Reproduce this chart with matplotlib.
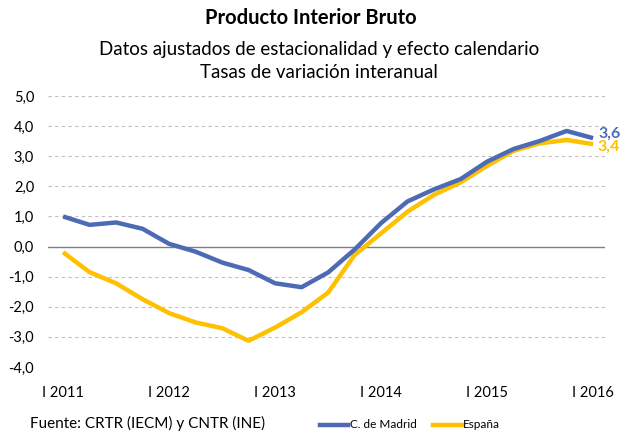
import numpy as np
import matplotlib
matplotlib.use("Agg")
import matplotlib.pyplot as plt

plt.rcParams['font.family'] = ['Lato', 'DejaVu Sans']

# datos trimestrales I 2011 - I 2016
madrid = [1.0, 0.72, 0.8, 0.59, 0.09, -0.17, -0.53, -0.78, -1.22, -1.35,
          -0.86, -0.1, 0.78, 1.5, 1.9, 2.24, 2.82, 3.24, 3.51, 3.84, 3.6]
espana = [-0.19, -0.85, -1.22, -1.75, -2.21, -2.52, -2.71, -3.13, -2.69, -2.18,
          -1.53, -0.28, 0.44, 1.16, 1.72, 2.13, 2.68, 3.18, 3.43, 3.54, 3.4]
xlabels = ['I 2011', 'I 2012', 'I 2013', 'I 2014', 'I 2015', 'I 2016']
yticks = [5, 4, 3, 2, 1, 0, -1, -2, -3, -4]

blue = '#4D6BB5'
yellow = '#FFC000'

fig = plt.figure(figsize=(6.21, 4.32), dpi=100)
ax = fig.add_axes([48/621, 1 - 367/432, (605-48)/621, (367-96)/432])

x = np.arange(len(madrid))
ax.plot(x, madrid, color=blue, lw=3.2, solid_capstyle='butt', zorder=3)
ax.plot(x, espana, color=yellow, lw=3.2, solid_capstyle='butt', zorder=2)

ax.set_ylim(-4, 5)
ax.set_xlim(-0.57, 20.45)
ax.set_yticks(yticks)
ax.set_yticklabels([('%.1f' % v).replace('.', ',') for v in yticks], fontsize=10.5)
ax.set_xticks(x[::4])
ax.set_xticklabels(xlabels, fontsize=10.5)
ax.tick_params(length=0, pad=10)
ax.tick_params(axis='x', pad=14)

for v in yticks:
    if v != 0:
        ax.axhline(v, color='#BFBFBF', lw=0.8, ls=(0, (3, 3)), zorder=1)
ax.axhline(0, color='#7F7F7F', lw=1, zorder=1)
for s in ax.spines.values():
    s.set_visible(False)

ax.text(x[-1] + 0.2, madrid[-1] + 0.15, '3,6', color=blue, fontsize=11.5,
        fontweight='bold', va='center', ha='left')
ax.text(x[-1] + 0.15, espana[-1] - 0.1, '3,4', color=yellow, fontsize=11.5,
        fontweight='bold', va='center', ha='left')

fig.text(0.5, 1 - 18/432, 'Producto Interior Bruto', ha='center', va='center',
         fontsize=14.5, fontweight='bold')
fig.text(319/621, 1 - 50/432, 'Datos ajustados de estacionalidad y efecto calendario',
         ha='center', va='center', fontsize=13.5)
fig.text(319/621, 1 - 73/432, 'Tasas de variación interanual', ha='center', va='center',
         fontsize=13.5)

fig.text(30/621, 1 - 423/432, 'Fuente: CRTR (IECM) y CNTR (INE)', ha='left',
         va='center', fontsize=11)

# leyenda manual
fig.add_artist(plt.Line2D([320/621, 348/621], [1 - 425/432] * 2, color=blue, lw=3.2))
fig.text(350/621, 1 - 424/432, 'C. de Madrid', ha='left', va='center', fontsize=8.5)
fig.add_artist(plt.Line2D([433/621, 462/621], [1 - 425/432] * 2, color=yellow, lw=3.2))
fig.text(463/621, 1 - 424/432, 'España', ha='left', va='center', fontsize=8.5)

fig.savefig('out.png', dpi=100)
